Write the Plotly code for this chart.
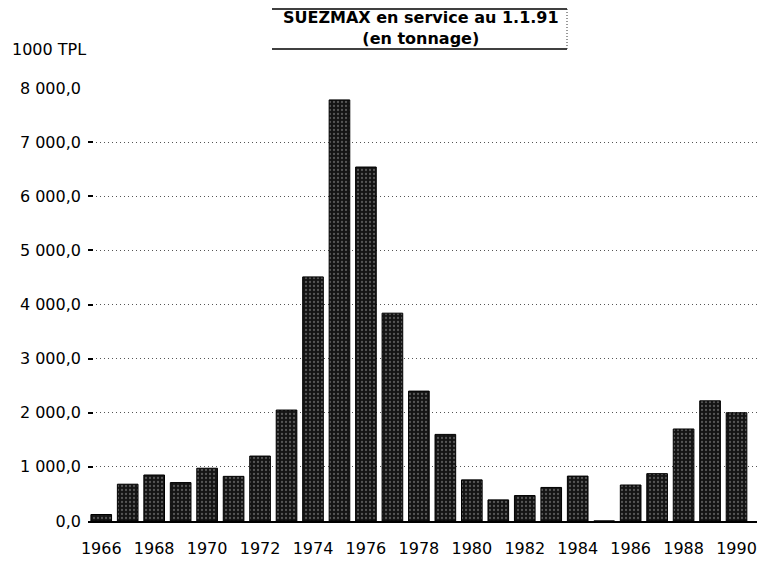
import plotly.graph_objects as go

years = list(range(1966, 1991))
tonnage = [120, 680, 850, 710, 975, 825, 1200, 2050, 4510, 7780, 6540, 3840,
           2400, 1600, 760, 390, 470, 620, 830, 0, 665, 875, 1700, 2220, 2000]
y_ticks = [0, 1000, 2000, 3000, 4000, 5000, 6000, 7000, 8000]
y_labels = ["0,0", "1 000,0", "2 000,0", "3 000,0", "4 000,0", "5 000,0",
            "6 000,0", "7 000,0", "8 000,0"]
x_ticks = list(range(1966, 1991, 2))
title_lines = ["SUEZMAX en service au 1.1.91", "(en tonnage)"]
unit_label = "1000 TPL"

FONT = "DejaVu Sans, Liberation Sans, Arial, sans-serif"

# page has an 8px body margin; the figure is laid out in screen coords minus 8
PL, PT, PW, PH = 88, 88, 675, 433  # plot area in screen px


def px(xs):
    return (xs - PL) / PW


def py(ys):
    return 1 - (ys - PT) / PH


fig = go.Figure()
fig.add_trace(go.Bar(
    x=years, y=tonnage, width=0.78,
    marker=dict(color="#1a1a1a",
                line=dict(color="black", width=1),
                pattern=dict(shape=".", fgcolor="#9a9a9a", bgcolor="#141414",
                             size=4, solidity=0.25)),
))

fig.update_layout(
    width=757, height=555,
    margin=dict(l=PL - 8, r=757 - (PL - 8 + PW), t=PT - 8, b=555 - (PT - 8 + PH)),
    paper_bgcolor="white", plot_bgcolor="white",
    showlegend=False,
    font=dict(family=FONT, size=16, color="black"),
)
fig.update_xaxes(
    range=[1965.5, 1991.0],
    tickvals=x_ticks, ticktext=[str(v) for v in x_ticks],
    showgrid=False, zeroline=False,
    showline=True, linecolor="black", linewidth=1.5,
    ticks="", ticklabelstandoff=12,
    tickfont=dict(family=FONT, size=16),
)
fig.update_yaxes(
    range=[0, 8000],
    tickvals=y_ticks, ticktext=y_labels,
    showgrid=True, gridcolor="#555", griddash="1px,3px", gridwidth=1,
    zeroline=False, showline=False,
    ticks="inside", ticklen=5, tickcolor="black", tickwidth=1.5,
    ticklabelstandoff=6,
    tickfont=dict(family=FONT, size=16),
)

# right dotted border
fig.add_shape(type="line", xref="paper", yref="paper", x0=1, x1=1, y0=0, y1=1,
              line=dict(color="#333", width=1, dash="1px,2px"))

# title box
fig.add_shape(type="line", xref="paper", yref="paper",
              x0=px(272), x1=px(567), y0=py(9), y1=py(9),
              line=dict(color="black", width=1.5))
fig.add_shape(type="line", xref="paper", yref="paper",
              x0=px(272), x1=px(567), y0=py(49), y1=py(49),
              line=dict(color="black", width=1.5))
fig.add_shape(type="line", xref="paper", yref="paper",
              x0=px(567), x1=px(567), y0=py(49), y1=py(9),
              line=dict(color="#333", width=1, dash="1px,2px"))

fig.add_annotation(xref="paper", yref="paper", x=px(421), y=py(28),
                   text="<b>" + "<br>".join(title_lines) + "</b>", showarrow=False,
                   align="center",
                   font=dict(family=FONT, size=16), xanchor="center", yanchor="middle")
fig.add_annotation(xref="paper", yref="paper", x=px(10), y=py(49),
                   text=unit_label, showarrow=False,
                   font=dict(family=FONT, size=16), xanchor="left", yanchor="middle")

fig.write_html("out.html")
